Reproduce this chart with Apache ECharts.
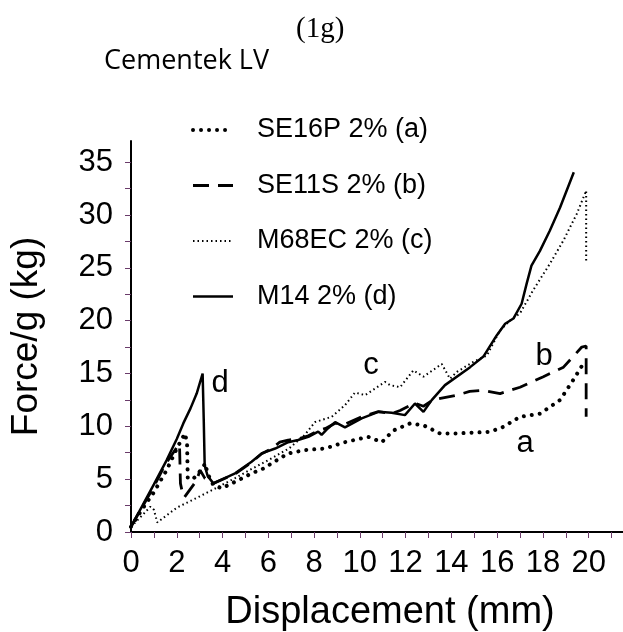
<!DOCTYPE html>
<html>
<head>
<meta charset="utf-8">
<script src="https://cdn.jsdelivr.net/npm/echarts@6/dist/echarts.min.js"></script>
<style>
  html, body { margin: 0; padding: 0; background: #fff; }
  #chart { width: 623px; height: 632px; }
</style>
</head>
<body>
<div id="chart"></div>
<script>
// Force per gram vs displacement, Cementek LV with 2% fibre additions
const seriesNames = ['SE16P 2% (a)', 'SE11S 2% (b)', 'M68EC 2% (c)', 'M14 2% (d)'];
const curveLetters = ['a', 'b', 'c', 'd'];

// displacement (mm), force/g (kg)
const curveA = [
  [0, 0.5], [0.5, 2.2], [0.97, 3.66], [1.56, 5.86], [2.0, 7.9], [2.36, 9.33],
  [2.45, 8.4], [2.48, 5.1], [2.7, 5.0], [2.89, 5.4], [3.1, 6.0], [3.25, 6.5],
  [3.34, 5.55], [3.6, 4.44], [3.96, 4.13], [4.69, 4.9], [5.27, 5.55], [5.78, 6.0],
  [6.15, 6.5], [6.87, 7.44], [7.6, 7.75], [8.48, 7.9], [9.35, 8.5], [10.37, 9.0],
  [10.96, 8.5], [11.46, 9.6], [12.19, 10.27], [12.78, 10.1], [13.5, 9.33],
  [14.24, 9.33], [15.69, 9.48], [16.27, 9.95], [17.0, 10.9], [17.88, 11.2],
  [18.75, 12.5], [19.33, 14.4], [19.77, 15.95]
];
const curveB = [
  [0, 0.5], [0.5, 2.4], [1.0, 4.3], [1.5, 6.4], [2.0, 8.0], [2.12, 8.3],
  [2.16, 4.6], [2.24, 3.8], [2.33, 3.28], [2.72, 4.44], [2.87, 4.9], [3.02, 5.86],
  [3.23, 5.07], [3.6, 4.6], [4.55, 5.5], [5.27, 6.6], [5.71, 7.4], [6.15, 7.9],
  [6.5, 8.5], [6.87, 8.7], [7.3, 8.8], [7.75, 9.1], [8.18, 9.6], [8.5, 9.8],
  [8.92, 10.3], [9.35, 10.2], [10.08, 10.9], [10.81, 11.4], [11.39, 11.2],
  [11.76, 11.5], [12.4, 12.2], [12.78, 11.9], [13.2, 12.5], [14.24, 12.95],
  [14.8, 13.3], [15.4, 13.4], [16.13, 13.1], [17.0, 13.7], [18.02, 14.7],
  [18.9, 15.6], [19.7, 17.5], [19.89, 17.6], [19.89, 10.9]
];
const curveC = [
  [0, 0.5], [0.5, 1.6], [0.85, 2.4], [1.0, 2.1], [1.15, 0.9], [2.0, 2.3],
  [2.94, 3.3], [3.75, 4.2], [4.55, 5.1], [5.3, 6.0], [6.0, 6.8], [6.9, 7.9],
  [7.6, 9.2], [8.04, 10.4], [8.77, 10.9], [9.35, 12.0], [9.79, 13.2], [10.23, 12.95],
  [11.1, 14.2], [11.32, 13.9], [11.76, 13.7], [12.34, 15.3], [12.78, 14.7],
  [13.58, 15.9], [13.94, 14.5], [14.24, 15.15], [14.96, 16.1], [15.55, 16.7],
  [16.13, 19.1], [16.56, 20.0], [17.0, 20.7], [17.58, 22.9], [18.31, 25.4],
  [18.9, 27.6], [19.48, 30.1], [19.89, 32.3], [19.89, 25.7]
];
const curveD = [
  [0, 0.5], [0.5, 2.5], [1.0, 4.5], [1.56, 6.8], [2.0, 8.8], [2.29, 10.3],
  [2.6, 11.7], [2.87, 13.1], [3.13, 15.0], [3.18, 10.5], [3.22, 6.3], [3.35, 5.3],
  [3.6, 4.6], [3.67, 4.44], [4.55, 5.55], [5.27, 6.65], [5.71, 7.44], [6.3, 7.9],
  [6.87, 8.5], [7.3, 8.7], [7.75, 9.0], [8.18, 9.5], [8.33, 9.2], [8.6, 9.8],
  [8.92, 10.4], [9.35, 9.9], [10.08, 10.75], [10.81, 11.37], [11.39, 11.28],
  [11.97, 11.06], [12.41, 12.16], [12.78, 11.37], [13.14, 12.48], [13.72, 13.9],
  [14.82, 15.6], [15.4, 16.6], [15.98, 18.6], [16.35, 19.7], [16.71, 20.2],
  [17.07, 21.6], [17.29, 23.5], [17.5, 25.2], [17.87, 26.6], [18.3, 28.5],
  [18.75, 30.7], [19.35, 34.05]
];
const curves = [curveA, curveB, curveC, curveD];

// axis ticks and labels
const xLabelValues = [0, 2, 4, 6, 8, 10, 12, 14, 16, 18, 20];
const xTickValues = [0, 1, 2, 3, 4, 5, 6, 7, 8, 9, 10, 11, 12, 13, 14, 15, 16, 17, 18, 19, 20, 21];
const yLabelValues = [0, 5, 10, 15, 20, 25, 30, 35];
const yTickValues = [0, 2.5, 5, 7.5, 10, 12.5, 15, 17.5, 20, 22.5, 25, 27.5, 30, 32.5, 35];

// where each curve's letter sits, in data units
const letterAnchors = [[17.22, 8.4], [18.05, 16.6], [10.49, 15.8], [3.89, 14.1]];

const lineStyles = [
  { color: '#000', width: 4, type: [0.01, 8], cap: 'round' },
  { color: '#000', width: 2.8, type: [16, 9] },
  { color: '#000', width: 2, type: [1.5, 3] },
  { color: '#000', width: 2.5, type: 'solid' }
];

const tickColor = '#6a3c6a';
const sans = '"Liberation Sans", Arial, sans-serif';

const chart = echarts.init(document.getElementById('chart'), null, { renderer: 'canvas' });

chart.setOption({
  animation: false,
  backgroundColor: '#fff',
  grid: { left: 131, right: 0, top: 141, bottom: 100, containLabel: false, outerBoundsMode: 'none' },
  graphic: [
    {
      type: 'text',
      x: 296, y: 15,
      style: { text: '(1g)', font: '29px "Liberation Serif", "Times New Roman", serif', fill: '#000', verticalAlign: 'top' }
    },
    {
      type: 'text',
      x: 104, y: 48,
      style: { text: 'Cementek LV', font: '27px "Open Sans", sans-serif', fill: '#000' }
    }
  ],
  legend: {
    orient: 'vertical',
    left: 186,
    top: 110,
    itemWidth: 40,
    itemHeight: 20,
    itemGap: 25.5,
    data: seriesNames,
    itemStyle: { opacity: 0, borderWidth: 0 },
    lineStyle: { width: 'inherit', type: 'inherit', cap: 'inherit' },
    textStyle: { fontFamily: sans, fontSize: 27, color: '#000', lineHeight: 30, padding: [0, 0, 0, 19] }
  },
  xAxis: {
    type: 'value', min: 0, max: 21.5,
    name: 'Displacement (mm)',
    nameLocation: 'middle',
    nameGap: 62,
    nameTextStyle: { fontFamily: sans, fontSize: 38, color: '#000', padding: [0, 0, 0, 26] },
    axisLine: { show: true, onZero: false, lineStyle: { color: '#000', width: 2 } },
    axisTick: { show: true, length: 6, customValues: xTickValues, lineStyle: { color: tickColor, width: 1 } },
    axisLabel: { customValues: xLabelValues, fontFamily: sans, fontSize: 31, color: '#000', margin: 16, lineHeight: 31 },
    splitLine: { show: false }
  },
  yAxis: {
    type: 'value', min: 0, max: 37,
    name: 'Force/g (kg)',
    nameLocation: 'middle',
    nameGap: 86,
    nameTextStyle: { fontFamily: sans, fontSize: 37, color: '#000' },
    axisLine: { show: true, onZero: false, lineStyle: { color: '#000', width: 2 } },
    axisTick: { show: true, length: 6, customValues: yTickValues, lineStyle: { color: tickColor, width: 1 } },
    axisLabel: { customValues: yLabelValues, fontFamily: sans, fontSize: 31, color: '#000', margin: 18 },
    splitLine: { show: false }
  },
  series: curves.map((data, i) => ({
    name: seriesNames[i],
    type: 'line',
    data: data,
    symbol: 'none',
    showSymbol: false,
    smooth: false,
    lineStyle: lineStyles[i],
    itemStyle: { color: '#000' },
    markPoint: {
      symbol: 'circle',
      symbolSize: 0,
      silent: true,
      data: [{ coord: letterAnchors[i], value: curveLetters[i] }],
      label: {
        show: true, position: 'inside', formatter: curveLetters[i],
        fontFamily: sans, fontSize: 31, color: '#000'
      }
    }
  }))
});
</script>
</body>
</html>
